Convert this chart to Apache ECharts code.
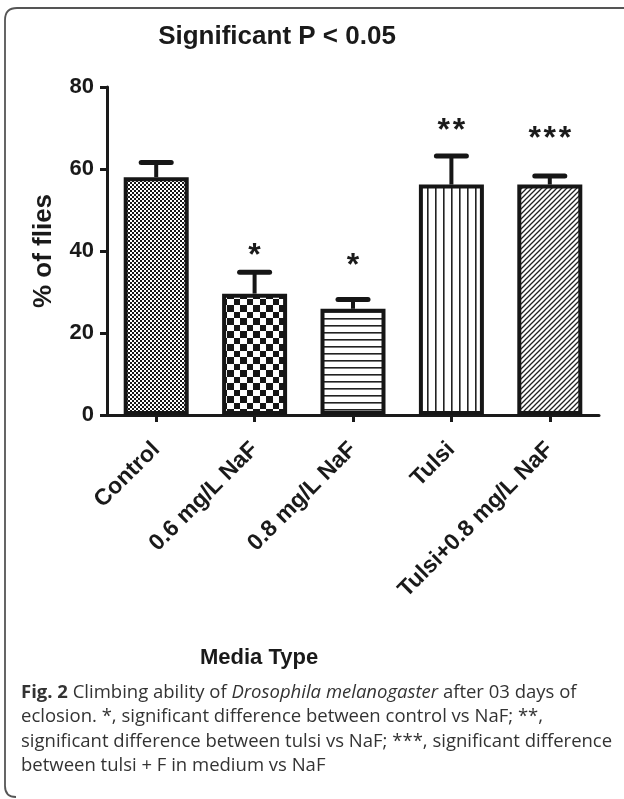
<!DOCTYPE html>
<html>
<head>
<meta charset="utf-8">
<script src="https://cdn.jsdelivr.net/npm/echarts@6/dist/echarts.min.js"></script>
<style>
html,body{margin:0;padding:0;background:#fff;}
#chart{width:624px;height:799px;}
</style>
</head>
<body>
<div id="chart"></div>
<script>
// ---- data ----
const categories = ['Control', '0.6 mg/L NaF', '0.8 mg/L NaF', 'Tulsi', 'Tulsi+0.8 mg/L NaF'];
const means = [58.0, 29.6, 25.9, 56.2, 56.2];
const errorTops = [61.6, 34.8, 28.2, 63.2, 58.3];
const starLabels = ['', '*', '*', '**', '***'];
const starPositions = [null, 39.8, 37.3, 70.3, 68.3];
const yTicks = [0, 20, 40, 60, 80];

// ---- hatch patterns ----
function makeTile(w, h, draw) {
  const c = document.createElement('canvas');
  c.width = w; c.height = h;
  const ctx = c.getContext('2d');
  ctx.fillStyle = '#fff';
  ctx.fillRect(0, 0, w, h);
  draw(ctx);
  return c;
}
const ink = '#161616';
const patterns = [
  makeTile(4, 4, ctx => { ctx.fillStyle = ink; ctx.fillRect(0, 0, 2, 2); ctx.fillRect(2, 2, 2, 2); }),
  makeTile(13, 13, ctx => { ctx.fillStyle = ink; ctx.fillRect(0, 0, 6, 6); ctx.fillRect(6, 6, 7, 7); }),
  makeTile(7, 7, ctx => { ctx.fillStyle = '#222'; ctx.fillRect(0, 3, 7, 1.6); }),
  makeTile(8, 8, ctx => { ctx.fillStyle = '#222'; ctx.fillRect(3, 0, 1.6, 8); }),
  makeTile(5, 5, ctx => {
    ctx.strokeStyle = '#222'; ctx.lineWidth = 1.3;
    ctx.beginPath();
    ctx.moveTo(-1, 6); ctx.lineTo(6, -1);
    ctx.moveTo(-1, 1); ctx.lineTo(1, -1);
    ctx.moveTo(4, 6); ctx.lineTo(6, 4);
    ctx.stroke();
  })
];

const bold = 'Liberation Sans, Arial, Helvetica, sans-serif';
const chart = echarts.init(document.getElementById('chart'), null, {renderer: 'canvas'});
const frameStyle = {fill: 'none', stroke: '#555', lineWidth: 1.8};
const capColor = '#333';

const option = {
  backgroundColor: '#fff',
  animation: false,
  title: {
    text: 'Significant P < 0.05',
    left: 272, top: 19, textAlign: 'center',
    textStyle: {fontFamily: bold, fontWeight: 'bold', fontSize: 26, color: '#1a1a1a'}
  },
  grid: {left: 107, right: 25, top: 87, bottom: 384, containLabel: false},
  xAxis: {
    type: 'category',
    data: categories,
    axisLine: {lineStyle: {color: '#1a1a1a', width: 3}},
    axisTick: {show: true, alignWithLabel: true, length: 7, lineStyle: {color: '#1a1a1a', width: 3}},
    axisLabel: {rotate: 45, interval: 0, fontFamily: bold, fontWeight: 'bold', fontSize: 23, color: '#1a1a1a', margin: 31},
    splitLine: {show: false}
  },
  yAxis: {
    type: 'value', min: yTicks[0], max: yTicks[yTicks.length - 1], interval: 20,
    name: '% of flies', nameLocation: 'middle', nameGap: 50,
    nameTextStyle: {fontFamily: bold, fontWeight: 'bold', fontSize: 26, color: '#1a1a1a'},
    axisLine: {show: true, lineStyle: {color: '#1a1a1a', width: 3}},
    axisTick: {show: true, length: 7, lineStyle: {color: '#1a1a1a', width: 3}},
    axisLabel: {fontFamily: bold, fontWeight: 'bold', fontSize: 22, color: '#1a1a1a', margin: 13},
    splitLine: {show: false}
  },
  series: [
    {
      type: 'bar',
      barWidth: 65,
      data: means.map((v, i) => ({
        value: v,
        itemStyle: {color: {image: patterns[i], repeat: 'repeat'}, borderColor: ink, borderWidth: 4}
      })),
      z: 2
    },
    {
      type: 'custom',
      z: 3,
      data: means.map((m, i) => [i, m, errorTops[i]]),
      renderItem: function (params, api) {
        const i = api.value(0);
        const p0 = api.coord([i, api.value(1)]);
        const p1 = api.coord([i, api.value(2)]);
        return {
          type: 'group',
          children: [
            {type: 'line', shape: {x1: p0[0], y1: p0[1], x2: p1[0], y2: p1[1]}, style: {stroke: ink, lineWidth: 4}},
            {type: 'line', shape: {x1: p1[0] - 15, y1: p1[1], x2: p1[0] + 15, y2: p1[1]}, style: {stroke: ink, lineWidth: 5, lineCap: 'round'}}
          ]
        };
      }
    },
    {
      type: 'custom',
      z: 4,
      data: starPositions.map((s, i) => [i, s === null ? 0 : s, i]),
      renderItem: function (params, api) {
        const idx = api.value(2);
        const label = starLabels[idx];
        if (!label) return null;
        const p = api.coord([api.value(0), api.value(1)]);
        return {
          type: 'text',
          style: {
            text: label.split('').join('\u200A'),
            x: p[0], y: p[1] + 4,
            align: 'center', verticalAlign: 'middle',
            font: 'bold 32px ' + bold, fill: '#1a1a1a'
          }
        };
      }
    }
  ],
  graphic: [
    {type: 'polyline', shape: {points: [[624, 8], [17, 8]]}, style: frameStyle},
    {type: 'bezierCurve', shape: {x1: 17, y1: 8, cpx1: 5, cpy1: 8, x2: 5, y2: 20}, style: frameStyle},
    {type: 'polyline', shape: {points: [[5, 20], [5, 786]]}, style: frameStyle},
    {type: 'bezierCurve', shape: {x1: 5, y1: 786, cpx1: 5, cpy1: 797, x2: 16, y2: 797}, style: frameStyle},
    {
      type: 'text', left: 200, top: 647,
      style: {text: 'Media Type', font: 'bold 22px ' + bold, fill: '#1a1a1a'}
    },
    {
      type: 'text', left: 21, top: 680,
      style: {
        text: '{b|Fig. 2} Climbing ability of {i|Drosophila melanogaster} after 03 days of\neclosion. *, significant difference between control vs NaF; **,\nsignificant difference between tulsi vs NaF; ***, significant difference\nbetween tulsi + F in medium vs NaF',
        font: '18.5px "Open Sans", sans-serif', fill: capColor, lineHeight: 24.5,
        rich: {
          b: {fontWeight: 'bold', fontFamily: 'Open Sans', fontSize: 18.5, fill: capColor, lineHeight: 24.5},
          i: {fontStyle: 'italic', fontFamily: 'Open Sans', fontSize: 18.5, fill: capColor, lineHeight: 24.5}
        }
      }
    }
  ]
};
chart.setOption(option);
</script>
</body>
</html>
